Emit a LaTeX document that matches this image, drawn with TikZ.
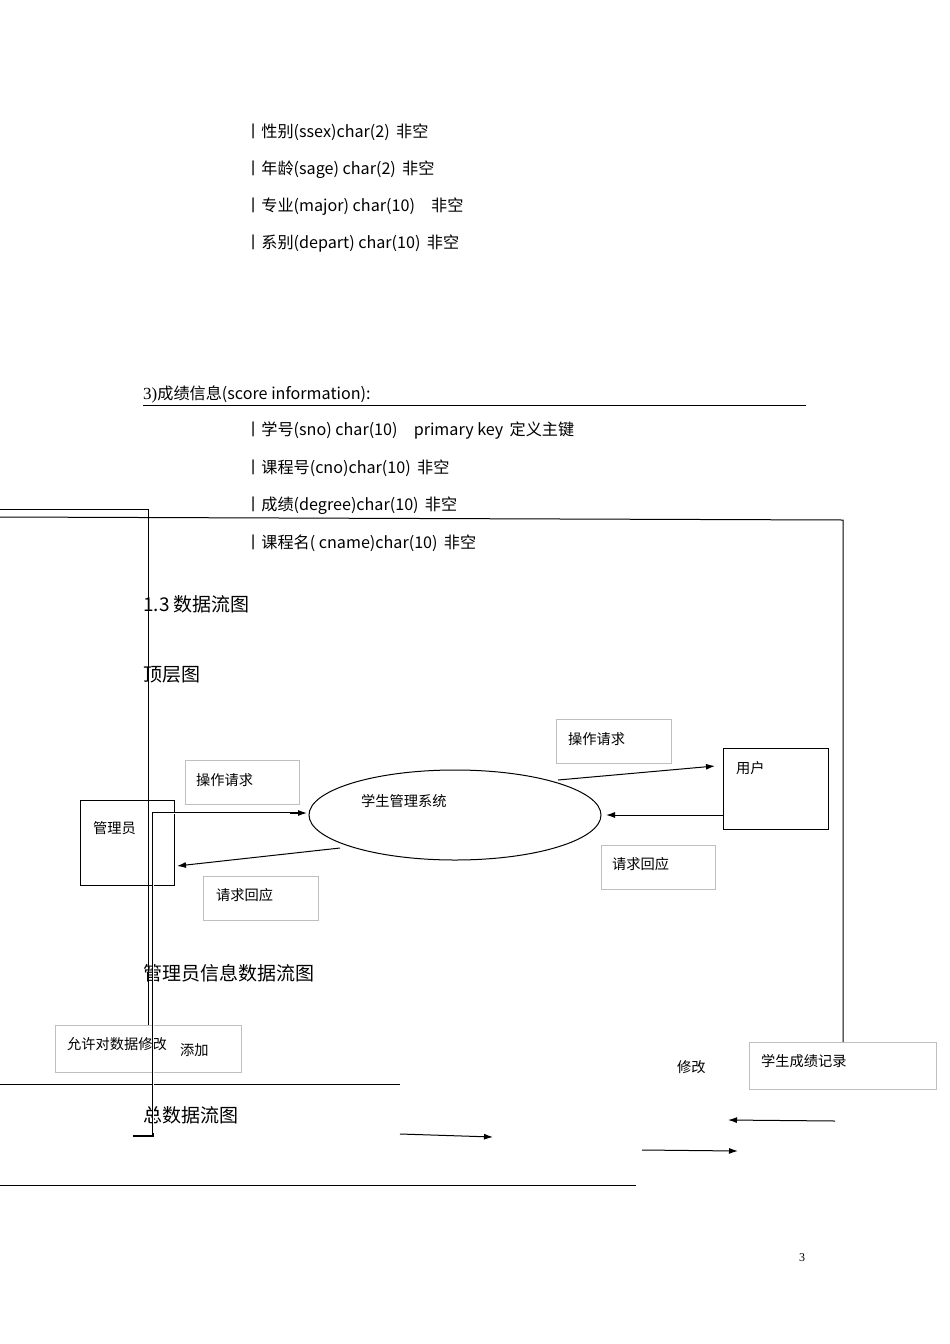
\documentclass[tikz,border=0pt]{standalone}
\usepackage{fontspec}
\setmainfont{Liberation Serif}
\newfontfamily\cjk{Noto Sans CJK SC}[Scale=0.95]
\usetikzlibrary{arrows.meta,shapes.geometric}
\begin{document}
\begin{tikzpicture}[x=1pt,y=-1pt,
 body/.style={anchor=west,inner sep=0pt,font=\fontsize{17}{20}\selectfont},
 head/.style={anchor=west,inner sep=0pt,font=\fontsize{20}{24}\selectfont\cjk},
 lbl/.style={draw=black!25,minimum width=#1,minimum height=44pt,inner sep=0pt,anchor=north west},
 lbltext/.style={anchor=west,inner sep=0pt,font=\fontsize{15}{18}\selectfont\cjk},
 ln/.style={line width=1pt},
 arr/.style={line width=1pt,-{Latex[length=9pt,width=6pt]}}]
\useasboundingbox (0,0) rectangle (950,1344);
% text lines
\node[body] (t1) at (245,132) {\cjk{丨性别}(ssex)char(2)\, \cjk{非空}};
\node[body] (t2) at (245,170) {\cjk{丨年龄}(sage) char(2)\, \cjk{非空}};
\node[body] (t3) at (245,207) {\cjk{丨专业}(major) char(10)\quad\cjk{非空}};
\node[body] (t4) at (245,244) {\cjk{丨系别}(depart) char(10)\, \cjk{非空}};
\node[body] (t5) at (143,394) {3)\cjk{成绩信息}(score information):};
\draw (143,405) -- (806,405);
\node[body] (t6) at (245,431) {\cjk{丨学号}(sno) char(10)\quad primary key\, \cjk{定义主键}};
\node[body] (t7) at (245,468) {\cjk{丨课程号}(cno)char(10)\, \cjk{非空}};
\node[body] (t8) at (245,506) {\cjk{丨成绩}(degree)char(10)\, \cjk{非空}};
\node[body] (t9) at (245,543) {\cjk{丨课程名}( cname)char(10)\, \cjk{非空}};
\node[head] (h1) at (143,604) {1.3 数据流图};
\node[head] (h2) at (143,675) {顶层图};
\node[head] (h3) at (143,973) {管理员信息数据流图};
\node[head] (h4) at (143,1115) {总数据流图};
\node[anchor=center,inner sep=0pt,font=\fontsize{12}{14}\selectfont] (pg) at (802,1258) {3};
% frame lines
\draw[ln] (0,509) -- (148,509) -- (148,1025);
\draw[ln] (0,517) -- (843,520) -- (843,1042);
\draw (0,1084) -- (400,1084);
\draw (0,1185) -- (636,1185);
% label boxes
\node[lbl=114pt] (b1) at (185,760) {}; \node[lbltext] at (196,780) {操作请求};
\node[lbl=115pt] (b2) at (203,876) {}; \node[lbltext] at (216,895) {请求回应};
\node[lbl=115pt] (b3) at (556,719) {}; \node[lbltext] at (568,739) {操作请求};
\node[lbl=114pt] (b4) at (601,845) {}; \node[lbltext] at (612,864) {请求回应};
\node[lbl=186pt,minimum height=47pt] (b5) at (55,1025) {}; \node[lbltext] at (67,1044) {允许对数据修改};
\node[lbltext] at (180,1050) {添加};
\node[lbl=187pt,minimum height=47pt] (b6) at (749,1042) {}; \node[lbltext] at (761,1061) {学生成绩记录};
\node[lbltext] (xg) at (677,1067) {修改};
% main nodes
\node[draw,ln,ellipse,minimum width=292pt,minimum height=90pt,inner sep=0pt] (sys) at (455,815) {};
\node[lbltext] at (361,801) {学生管理系统};
\node[draw,ln,minimum width=94pt,minimum height=85pt,anchor=north west] (adm) at (80,800) {};
\node[lbltext] at (93,828) {管理员};
\node[draw,ln,minimum width=105pt,minimum height=81pt,anchor=north west] (usr) at (723,748) {};
\node[lbltext] at (736,768) {用户};
% double line path
\draw[line width=2.6pt] (133,1136) -- (153,1136) -- (153,813) -- (298,813);
\draw[line width=0.9pt,white] (153,1133) -- (153,813) -- (298,813);
\draw[arr] (290,813) -- (307,813);
% arrows
\draw[arr] (558,780) -- (715,766);
\draw[arr] (723,815) -- (606,815);
\draw[arr] (340,848) -- (177,866);
\draw[arr] (400,1134) -- (493,1137);
\draw[arr] (835,1121) -- (728,1120);
\draw[arr] (642,1150) -- (738,1151);
\end{tikzpicture}
\end{document}
